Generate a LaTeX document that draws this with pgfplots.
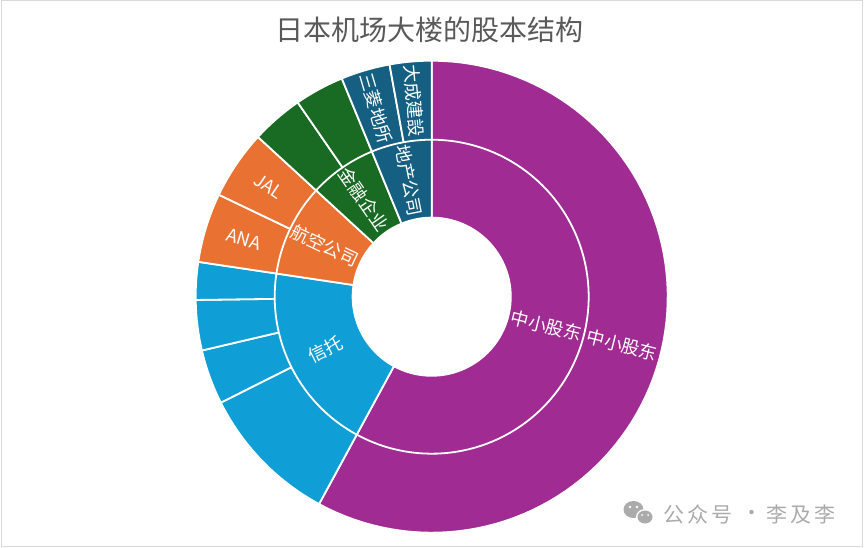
\documentclass[border=0pt]{standalone}
\usepackage{pgfplots}
\pgfplotsset{compat=1.18}
\usepgfplotslibrary{polar}
\usepackage{fontspec}
\setmainfont{Noto Sans CJK SC}
\definecolor{cPurple}{HTML}{A02B93}
\definecolor{cBlue}{HTML}{0F9ED5}
\definecolor{cOrange}{HTML}{E97132}
\definecolor{cGreen}{HTML}{196B24}
\definecolor{cTeal}{HTML}{156082}
\definecolor{titlegray}{HTML}{595959}
\definecolor{wmgray}{HTML}{ABABAB}
\definecolor{bordergray}{HTML}{D9D9D9}
\tikzset{lab/.style={text=white, inner sep=0pt, font=\fontsize{18}{20}\selectfont}}

\newif\ifdrawmode
\gdef\cum{0}
% #1 colour, #2 outer radius, #3 share (%), #4 label radius, #5 label
\newcommand\seg[5]{%
  \pgfmathsetmacro\phiA{90-3.6*\cum}%
  \pgfmathsetmacro\phiB{90-3.6*(\cum+#3)}%
  \ifdrawmode
    \edef\doit{\noexpand\addplot[fill=#1, draw=white, line width=1.8pt, line join=round, domain=\phiB:\phiA, samples=90] {#2} -- (axis cs:0,0) -- cycle;}%
    \doit
  \else
    \pgfmathsetmacro\phiM{(\phiA+\phiB)/2}%
    \pgfmathsetmacro\rot{cos(\phiM)>=0 ? \phiM : \phiM+180}%
    \edef\doit{\noexpand\node[lab, rotate=\rot] at (axis cs:\phiM,#4) {\unexpanded{#5}};}%
    \doit
  \fi
  \pgfmathsetmacro\cumnew{\cum+#3}\global\let\cum\cumnew
}
% outer ring (shares in %, clockwise from 12 o'clock)
\newcommand\outerring{%
  \gdef\cum{0}%
  \seg{cPurple}{236}{57.92}{196.5}{中小股东}%
  \seg{cBlue}{236}{9.67}{196.5}{}%
  \seg{cBlue}{236}{3.75}{196.5}{}%
  \seg{cBlue}{236}{3.44}{196.5}{}%
  \seg{cBlue}{236}{2.58}{196.5}{}%
  \seg{cOrange}{236}{4.75}{196.5}{ANA}%
  \seg{cOrange}{236}{4.72}{196.5}{JAL}%
  \seg{cGreen}{236}{3.56}{196.5}{}%
  \seg{cGreen}{236}{3.39}{196.5}{}%
  \seg{cTeal}{236}{3.36}{196.5}{三菱地所}%
  \seg{cTeal}{236}{2.86}{196.5}{大成建設}%
}
% inner ring
\newcommand\innerring{%
  \gdef\cum{0}%
  \seg{cPurple}{157}{57.92}{118.5}{中小股东}%
  \seg{cBlue}{157}{19.44}{118.5}{信托}%
  \seg{cOrange}{157}{9.47}{118.5}{航空公司}%
  \seg{cGreen}{157}{6.95}{118.5}{金融企业}%
  \seg{cTeal}{157}{6.22}{118.5}{地产公司}%
}

\begin{document}
\begin{tikzpicture}
\path[use as bounding box] (0,0) rectangle (864pt,-548pt);
\draw[bordergray, line width=1pt] (1pt,-1pt) rectangle (862pt,-546pt);
\node[text=titlegray, font=\fontsize{28}{30}\selectfont] at (429pt,-30pt) {日本机场大楼的股本结构};
\begin{polaraxis}[
  hide axis, scale only axis, width=472pt, height=472pt,
  xmin=0, xmax=360, ymin=0, ymax=236, clip=false,
  at={(431.7pt,-296.7pt)}, anchor=center,
]
\drawmodetrue
\outerring
\innerring
\addplot[fill=white, draw=none, domain=0:360, samples=120] {80} -- cycle;
\drawmodefalse
\outerring
\innerring
\end{polaraxis}
% watermark
\fill[wmgray] (633.5pt,-509.5pt) ellipse [x radius=10pt, y radius=8.5pt];
\fill[white] (645pt,-517pt) ellipse [x radius=9pt, y radius=8pt];
\fill[wmgray] (645pt,-517pt) ellipse [x radius=7.5pt, y radius=6.5pt];
\fill[white] (630pt,-507pt) circle [radius=1.3pt];
\fill[white] (637pt,-507pt) circle [radius=1.3pt];
\fill[white] (642pt,-515pt) circle [radius=1pt];
\fill[white] (648pt,-515pt) circle [radius=1pt];
\node[anchor=west, text=wmgray, inner sep=0pt, font=\fontsize{21}{24}\selectfont] at (663pt,-514pt) {公\kern3pt 众\kern3pt 号};
\node[text=wmgray, inner sep=0pt, font=\fontsize{21}{24}\selectfont] at (752pt,-515pt) {·};
\node[anchor=east, text=wmgray, inner sep=0pt, font=\fontsize{21}{24}\selectfont] at (836pt,-514pt) {李\kern3pt 及\kern3pt 李};
\end{tikzpicture}
\end{document}
